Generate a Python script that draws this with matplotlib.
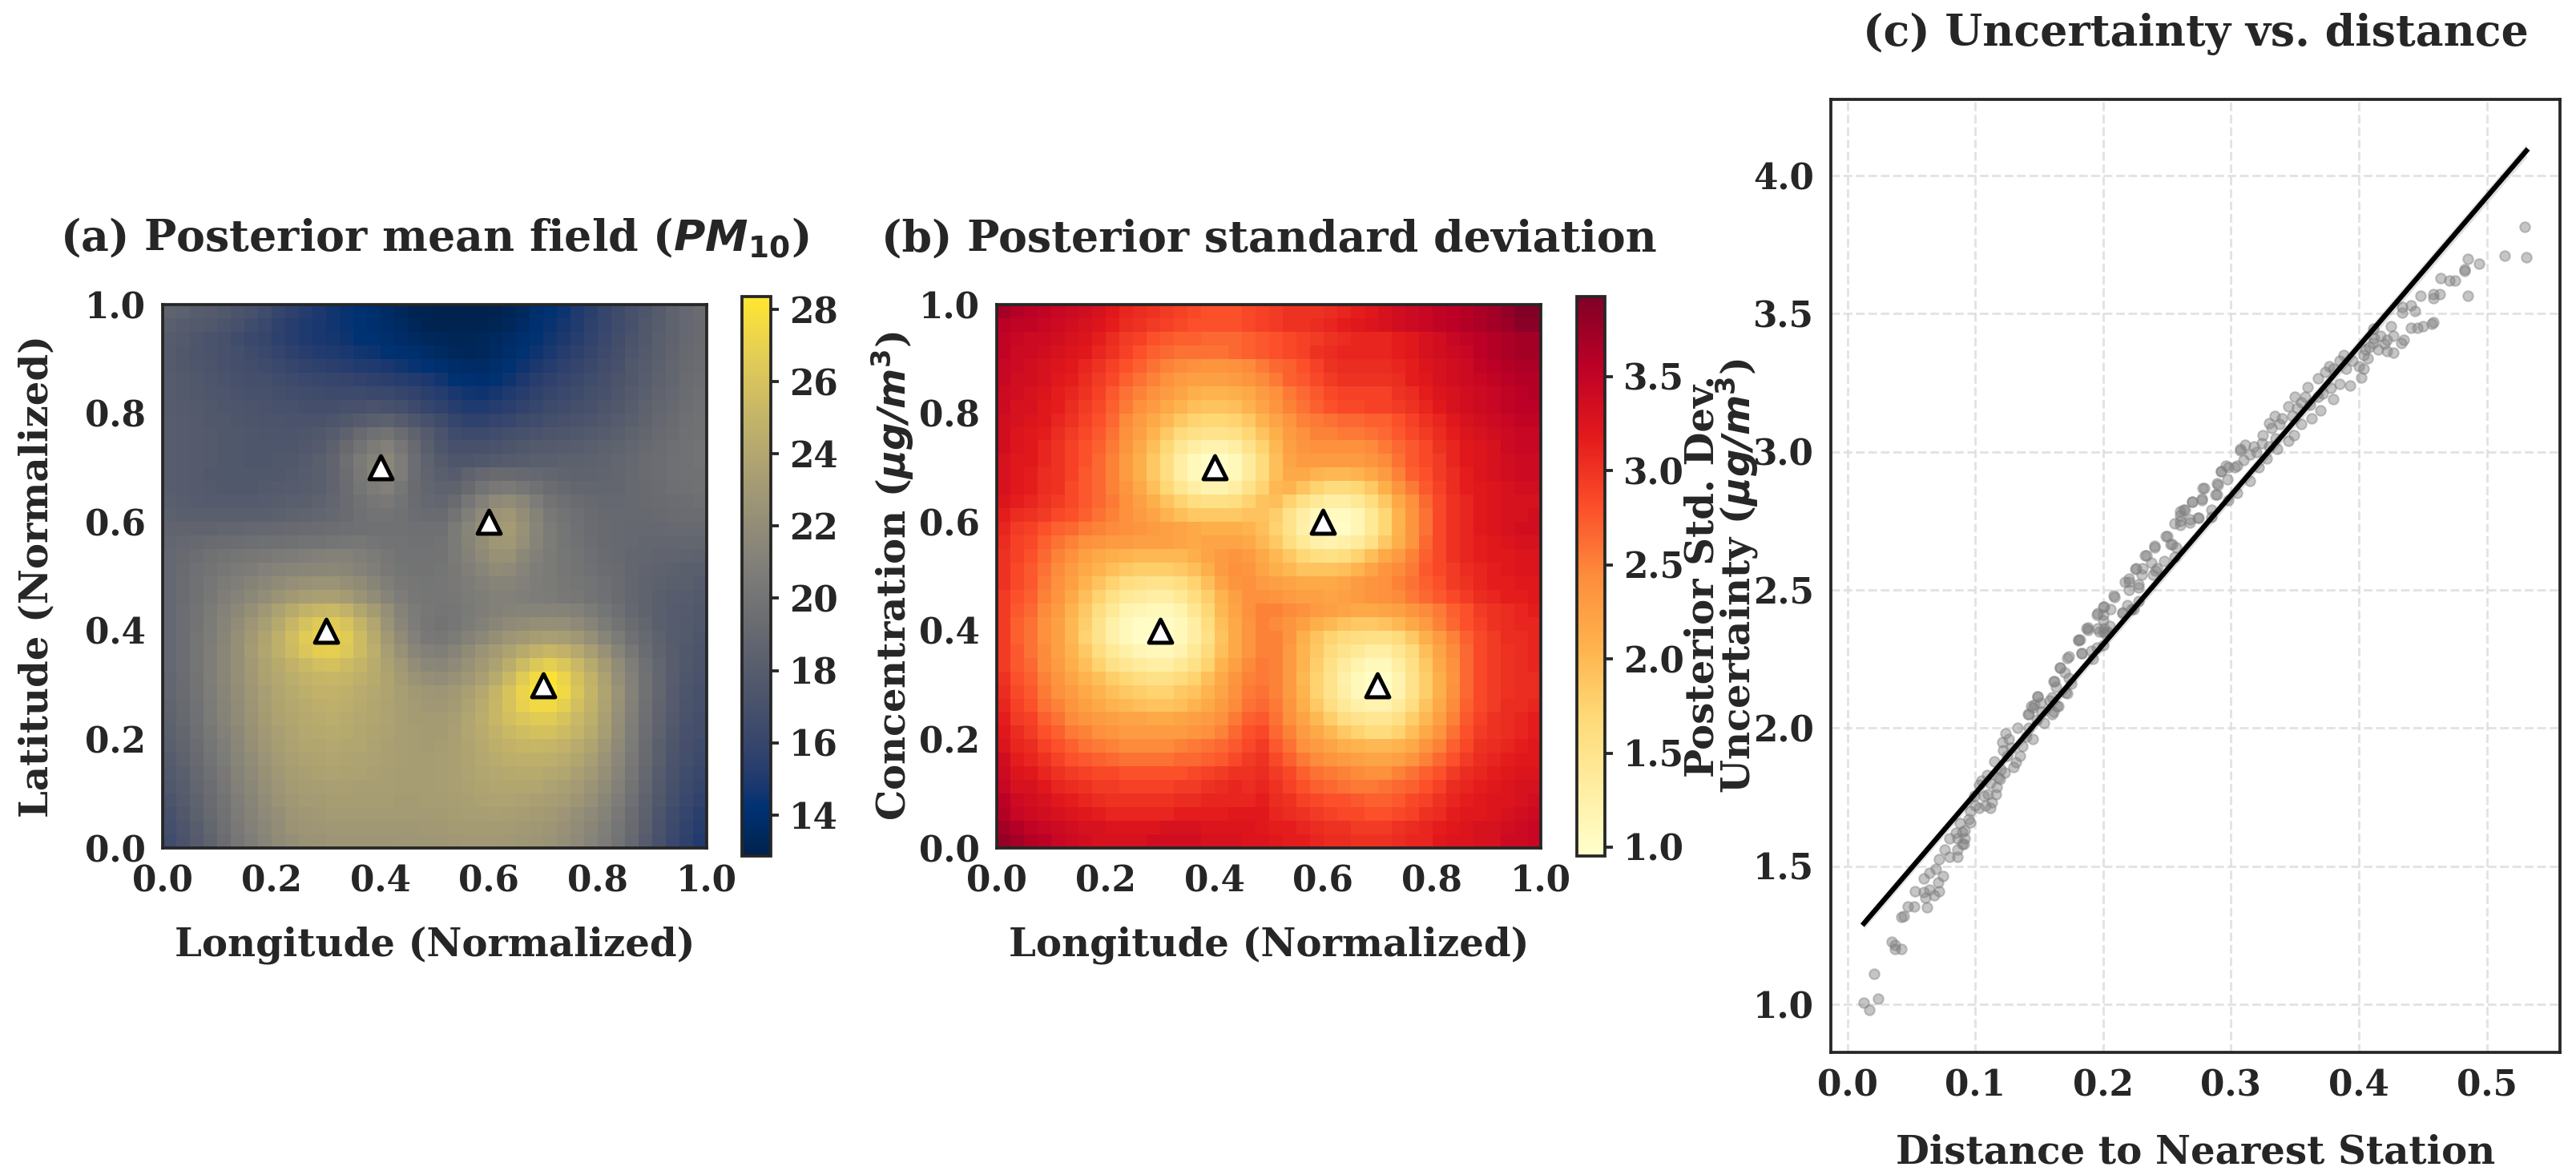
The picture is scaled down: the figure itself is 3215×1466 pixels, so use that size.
import numpy as np
import matplotlib
matplotlib.use("Agg")
import matplotlib.pyplot as plt

W, H, DPI = 3215, 1466, 300
INK = "#262626"
plt.rcParams.update({
    "font.family": "DejaVu Serif", "font.weight": "bold",
    "mathtext.fontset": "dejavusans", "mathtext.default": "it",
    "axes.labelweight": "bold", "axes.titleweight": "bold",
    "text.color": INK, "axes.labelcolor": INK,
    "xtick.color": INK, "ytick.color": INK, "axes.edgecolor": INK,
})

station_x = [0.3, 0.4, 0.6, 0.7]
station_y = [0.4, 0.7, 0.6, 0.3]

# rows top to bottom, 40 x 40 cells
mean_field = [
[18.6,18.4,18.1,17.9,17.6,17.3,17,16.6,16,15.6, 15.2,14.9,14.6,14.4,14.2,14,13.7,13.4,13.1,13, 12.9,12.9,12.9,12.9,13,13.2,13.5,14,14.3,14.5, 15,15.5,16,16.5,17,17.5,18,18.6,19,19.3],
[18.2,18,17.8,17.6,17.3,17,16.6,16.2,15.7,15.3, 15,14.8,14.6,14.4,14.2,14,13.8,13.6,13.3,13.1, 13,13,13,13.1,13.2,13.4,13.7,14.1,14.4,14.7, 15.1,15.6,16.1,16.6,17.1,17.6,18.1,18.6,19,19.2],
[18,17.8,17.5,17.2,17,16.6,16.3,16,15.6,15.3, 15,14.8,14.7,14.5,14.3,14.2,14,13.8,13.6,13.4, 13.3,13.2,13.2,13.3,13.5,13.7,14,14.3,14.6,14.9, 15.3,15.8,16.2,16.7,17.2,17.7,18.2,18.6,19,19.2],
[17.9,17.7,17.4,17.2,17,16.8,16.5,16.2,15.9,15.6, 15.3,15.1,15,14.8,14.6,14.5,14.3,14.1,14,13.8, 13.6,13.4,13.3,13.4,13.6,13.9,14.2,14.5,14.8,15.2, 15.6,16,16.4,16.9,17.4,17.8,18.3,18.7,19.1,19.3],
[17.9,17.7,17.5,17.3,17.1,16.9,16.7,16.5,16.3,16, 15.8,15.6,15.5,15.3,15.1,15,14.8,14.6,14.4,14.2, 14,13.8,13.7,13.7,13.9,14.2,14.5,14.9,15.2,15.6, 15.9,16.3,16.7,17.1,17.6,18,18.4,18.8,19.2,19.4],
[18,17.8,17.6,17.4,17.2,17.1,16.9,16.8,16.6,16.4, 16.2,16.1,16,15.9,15.8,15.6,15.5,15.3,15.1,14.9, 14.6,14.3,14.1,14,14.2,14.5,14.9,15.3,15.6,15.9, 16.2,16.6,16.9,17.3,17.7,18.1,18.5,18.9,19.3,19.5],
[18,17.8,17.7,17.5,17.4,17.2,17.1,17,16.8,16.7, 16.6,16.5,16.4,16.4,16.4,16.3,16.2,16,15.8,15.5, 15.2,14.8,14.6,14.5,14.7,15,15.3,15.7,16,16.2, 16.5,16.8,17.1,17.5,17.9,18.3,18.7,19,19.4,19.6],
[18,17.9,17.8,17.6,17.5,17.4,17.3,17.2,17.1,17, 16.9,16.9,16.9,17,17.1,17.2,17.1,16.8,16.4,16, 15.7,15.3,15,15,15.2,15.5,15.8,16.1,16.4,16.6, 16.8,17.1,17.4,17.7,18.1,18.5,18.8,19.1,19.5,19.7],
[18.1,18,17.9,17.7,17.6,17.5,17.4,17.3,17.3,17.2, 17.2,17.2,17.4,17.7,18,18.3,18.4,18,17.5,17, 16.5,16,15.7,15.7,15.9,16.1,16.4,16.6,16.8,17, 17.2,17.4,17.7,18,18.3,18.6,19,19.3,19.6,19.8],
[18.1,18,17.9,17.8,17.7,17.6,17.5,17.4,17.4,17.4, 17.5,17.6,18,18.5,19.2,19.7,20,19.4,18.6,17.9, 17.2,16.6,16.4,16.4,16.6,16.8,17,17.2,17.4,17.5, 17.6,17.8,18,18.3,18.6,18.9,19.2,19.4,19.7,19.8],
[18.1,18,17.9,17.8,17.7,17.6,17.5,17.5,17.5,17.5, 17.7,17.9,18.4,19.2,20,20.6,21,20.2,19.2,18.3, 17.5,17.1,17,17,17.2,17.4,17.6,17.8,17.9,18, 18.1,18.2,18.4,18.6,18.9,19.1,19.4,19.6,19.8,19.9],
[18.1,18,17.9,17.8,17.7,17.6,17.5,17.5,17.6,17.7, 17.9,18.2,18.7,19.6,20.5,21.2,21.6,20.7,19.5,18.6, 17.9,17.5,17.5,17.6,17.8,18,18.1,18.2,18.3,18.4, 18.4,18.5,18.6,18.8,19,19.3,19.5,19.7,19.8,19.9],
[18.1,18,17.9,17.7,17.6,17.6,17.6,17.6,17.7,17.8, 18,18.2,18.7,19.5,20.4,21.2,21.6,20.7,19.5,18.7, 18.2,18,18.6,19,19.2,19.2,19.1,19,18.8,18.7, 18.6,18.6,18.7,18.9,19.1,19.3,19.5,19.7,19.8,19.8],
[18.1,18,17.9,17.8,17.7,17.7,17.7,17.8,17.9,18, 18.1,18.3,18.7,19.4,20.1,20.7,21,20.2,19.3,18.8, 18.5,18.6,19.2,19.9,20.4,20.5,20.2,19.8,19.4,19.1, 18.9,18.8,18.8,18.9,19.1,19.2,19.4,19.6,19.7,19.8],
[18.2,18.1,18,17.9,17.9,17.9,17.9,18,18.1,18.2, 18.3,18.5,18.8,19.3,19.8,20.2,20.4,19.9,19.4,19, 18.9,19.3,20.2,21,21.8,22,21.5,20.7,20,19.6, 19.3,19.1,19,19,19.1,19.2,19.3,19.4,19.5,19.6],
[18.4,18.3,18.2,18.2,18.2,18.2,18.3,18.3,18.4,18.6, 18.7,18.8,19,19.3,19.7,19.9,20,19.8,19.5,19.3, 19.3,20,20.9,21.8,22.6,22.8,22.1,21.2,20.4,19.9, 19.6,19.3,19.1,19.1,19.1,19.1,19.2,19.3,19.4,19.4],
[18.7,18.7,18.7,18.7,18.8,18.9,19,19,19.1,19.2, 19.3,19.4,19.5,19.6,19.7,19.8,19.8,19.8,19.7,19.7, 19.7,20.5,21.4,22.3,23,23.1,22.4,21.4,20.6,20.1, 19.7,19.4,19.2,19.1,19,19,19,19.1,19.1,19.1],
[18.9,19,19.1,19.3,19.4,19.5,19.6,19.7,19.7,19.8, 19.9,20,20.1,20.2,20.3,20.1,20,19.9,19.8,19.8, 19.9,20.5,21.3,22.1,22.8,22.9,22.2,21.3,20.6,20.1, 19.8,19.5,19.2,19.1,19,18.9,18.9,18.9,18.8,18.8],
[19,19.2,19.5,19.8,20,20.1,20.3,20.4,20.6,20.7, 20.9,21,21.1,21.1,20.9,20.6,20.3,20,19.9,19.9, 20,20.5,21.1,21.8,22.4,22.4,21.7,21,20.5,20.2, 19.9,19.6,19.3,19.1,18.9,18.8,18.7,18.7,18.6,18.5],
[19,19.3,19.7,20,20.3,20.5,20.7,21,21.2,21.4, 21.5,21.6,21.7,21.5,21.2,20.9,20.4,20.1,20,20, 20.1,20.4,20.9,21.4,21.9,21.8,21.3,20.8,20.5,20.2, 20,19.7,19.4,19.2,18.9,18.7,18.5,18.4,18.3,18.2],
[19,19.4,19.8,20.2,20.6,20.9,21.2,21.6,21.9,22.2, 22.4,22.5,22.5,22.3,21.9,21.4,20.9,20.4,20.2,20.1, 20.2,20.4,20.7,21,21.3,21.3,21,20.7,20.5,20.3, 20.1,19.9,19.6,19.3,18.9,18.6,18.4,18.3,18.2,18],
[19,19.4,19.8,20.3,20.8,21.2,21.7,22.1,22.6,23, 23.3,23.5,23.5,23.2,22.6,22,21.3,20.7,20.3,20.2, 20.2,20.3,20.6,20.8,21,21,20.9,20.7,20.6,20.4, 20.3,20,19.7,19.3,18.9,18.6,18.3,18.1,18,17.8],
[19,19.5,19.9,20.5,21.1,21.7,22.3,22.9,23.6,24.3, 24.9,25.2,25.3,24.9,24,23.2,22.2,21.2,20.6,20.3, 20.1,20.2,20.5,20.8,21,21.2,21.3,21.3,21.3,21.2, 21,20.6,20.1,19.6,19,18.6,18.3,18,17.9,17.7],
[19,19.5,20,20.6,21.3,22,22.7,23.4,24.2,25.2, 26,26.5,26.6,26.1,25,23.9,22.6,21.5,20.7,20.2, 20,20.2,20.6,21,21.5,21.8,22,22.2,22.3,22.2, 21.8,21.3,20.6,20,19.3,18.8,18.3,18,17.8,17.6],
[19,19.5,20.1,20.7,21.4,22.2,23,23.8,24.7,25.7, 26.6,27.1,27.2,26.6,25.5,24.3,23,21.9,21,20.4, 20.3,20.6,21.1,21.7,22.3,22.7,23,23.3,23.5,23.3, 22.9,22.2,21.4,20.6,19.7,19.1,18.5,18,17.8,17.5],
[19,19.5,20.1,20.8,21.5,22.3,23.1,23.9,24.7,25.5, 26.3,26.8,26.9,26.4,25.5,24.6,23.4,22.4,21.5,21, 20.9,21.3,21.9,22.5,23.1,23.7,24.3,24.9,25.2,24.9, 24.2,23.4,22.4,21.3,20.3,19.4,18.6,18.1,17.7,17.4],
[19,19.5,20.1,20.8,21.5,22.3,23,23.7,24.3,24.9, 25.4,25.8,25.9,25.5,25,24.4,23.6,22.9,22.1,21.6, 21.5,21.8,22.4,23,23.6,24.5,25.5,26.4,26.9,26.3, 25.3,24.3,23.2,22,20.8,19.7,18.8,18.1,17.6,17.3],
[18.9,19.4,20,20.8,21.5,22.2,22.9,23.6,24.1,24.5, 24.9,25.1,25.2,25,24.7,24.3,23.8,23.2,22.6,22.2, 22.1,22.4,22.9,23.5,24.3,25.4,26.6,27.6,28.1,27.2, 25.9,24.8,23.6,22.3,21,19.8,18.8,18.1,17.5,17.2],
[18.8,19.3,19.9,20.7,21.4,22.1,22.8,23.4,23.9,24.3, 24.6,24.8,24.9,24.7,24.4,24.1,23.8,23.4,23,22.8, 22.7,23,23.5,24.1,25,26.1,27.2,28,28.3,27.5, 26.2,25,23.8,22.5,21.1,19.8,18.8,18,17.4,17.1],
[18.7,19.2,19.8,20.6,21.3,22,22.7,23.3,23.8,24.1, 24.4,24.6,24.7,24.5,24.3,24,23.7,23.4,23.1,22.9, 22.9,23.2,23.7,24.4,25.2,26.1,27,27.5,27.5,26.9, 25.8,24.8,23.7,22.4,21,19.7,18.7,18,17.3,17],
[18.6,19.1,19.7,20.5,21.2,21.9,22.6,23.2,23.7,24, 24.2,24.4,24.5,24.3,24.1,23.9,23.7,23.4,23.2,23.1, 23.1,23.4,23.9,24.5,25.2,25.8,26.3,26.6,26.6,26.1, 25.4,24.6,23.5,22.3,20.9,19.6,18.6,17.8,17.2,16.9],
[18.4,18.9,19.6,20.3,21,21.7,22.4,23,23.5,23.8, 24.1,24.2,24.3,24.2,24,23.8,23.6,23.4,23.3,23.2, 23.2,23.5,23.9,24.4,24.9,25.4,25.7,25.9,25.9,25.5, 25,24.3,23.3,22.1,20.8,19.5,18.5,17.7,17.1,16.8],
[18.2,18.7,19.4,20.1,20.8,21.6,22.2,22.8,23.3,23.7, 23.9,24,24.1,24,23.9,23.7,23.5,23.4,23.3,23.2, 23.3,23.5,23.8,24.2,24.6,24.9,25.1,25.2,25.1,24.8, 24.4,23.8,22.9,21.8,20.6,19.3,18.3,17.5,16.9,16.6],
[18,18.5,19.2,19.9,20.6,21.4,22,22.6,23.1,23.5, 23.7,23.8,23.9,23.8,23.7,23.6,23.5,23.4,23.3,23.3, 23.4,23.5,23.8,24.1,24.4,24.6,24.7,24.7,24.6,24.4, 24,23.4,22.6,21.6,20.4,19.2,18.2,17.3,16.8,16.4],
[17.8,18.3,19,19.7,20.4,21.2,21.8,22.4,22.9,23.3, 23.5,23.6,23.7,23.6,23.6,23.5,23.4,23.3,23.3,23.3, 23.4,23.5,23.7,23.9,24.1,24.2,24.3,24.3,24.1,23.9, 23.5,23,22.2,21.3,20.2,19,18,17.2,16.6,16.2],
[17.6,18.1,18.8,19.5,20.2,21,21.6,22.2,22.7,23.1, 23.3,23.4,23.5,23.5,23.4,23.4,23.4,23.3,23.3,23.3, 23.4,23.5,23.6,23.8,23.9,24,24,23.9,23.7,23.5, 23.1,22.6,21.9,21,20,18.8,17.8,17,16.4,16],
[17.3,17.9,18.6,19.3,20,20.8,21.4,22,22.5,22.9, 23.1,23.2,23.3,23.3,23.3,23.3,23.3,23.2,23.2,23.3, 23.3,23.4,23.5,23.6,23.7,23.7,23.6,23.5,23.3,23.1, 22.7,22.2,21.5,20.7,19.7,18.6,17.6,16.8,16.2,15.8],
[17.1,17.7,18.4,19.1,19.8,20.6,21.2,21.8,22.3,22.7, 22.9,23,23.1,23.1,23.1,23.1,23.1,23.1,23.1,23.1, 23.2,23.3,23.4,23.4,23.5,23.4,23.3,23.2,23,22.7, 22.3,21.8,21.2,20.4,19.4,18.4,17.4,16.6,16,15.5],
[16.8,17.4,18.1,18.8,19.6,20.4,21,21.6,22.1,22.5, 22.7,22.8,22.9,22.9,22.9,22.9,22.9,22.9,22.9,23, 23,23.1,23.2,23.2,23.2,23.1,23,22.9,22.7,22.4, 22,21.5,20.9,20.1,19.2,18.2,17.2,16.4,15.8,15.3],
[16.6,17.2,17.9,18.6,19.4,20.2,20.8,21.4,21.9,22.3, 22.5,22.6,22.7,22.7,22.7,22.7,22.7,22.8,22.8,22.8, 22.8,22.9,23,23,23,22.9,22.8,22.7,22.5,22.2, 21.8,21.3,20.7,19.9,19,18,17,16.2,15.6,15.1],
]
std_field = [
[3.7,3.6,3.55,3.5,3.45,3.4,3.35,3.3,3.2,3.1, 3.05,3,2.95,2.9,2.85,2.8,2.8,2.8,2.85,2.9, 2.95,3,3,3,3.05,3.1,3.15,3.2,3.3,3.35, 3.4,3.45,3.5,3.55,3.6,3.65,3.7,3.8,3.9,3.9],
[3.55,3.5,3.5,3.45,3.4,3.35,3.3,3.25,3.15,3.05, 3,2.95,2.9,2.85,2.8,2.8,2.8,2.8,2.85,2.9, 2.95,3,3,3.05,3.1,3.15,3.2,3.25,3.3,3.35, 3.4,3.45,3.5,3.55,3.6,3.65,3.7,3.75,3.85,3.85],
[3.5,3.45,3.4,3.4,3.35,3.3,3.25,3.15,3.05,2.95, 2.9,2.8,2.75,2.7,2.7,2.65,2.65,2.65,2.7,2.75, 2.8,2.85,2.9,2.95,3,3.05,3.1,3.1,3.1,3.15, 3.2,3.3,3.35,3.45,3.5,3.55,3.6,3.65,3.7,3.7],
[3.5,3.4,3.4,3.35,3.3,3.25,3.2,3.1,3,2.9, 2.8,2.7,2.65,2.6,2.6,2.6,2.6,2.65,2.7,2.75, 2.8,2.85,2.9,3,3.05,3.1,3.1,3.1,3.1,3.15, 3.2,3.3,3.35,3.4,3.45,3.55,3.6,3.65,3.7,3.7],
[3.45,3.4,3.35,3.3,3.25,3.2,3.1,3,2.9,2.8, 2.7,2.6,2.5,2.45,2.4,2.35,2.35,2.4,2.45,2.55, 2.65,2.7,2.8,2.9,3,3.05,3.05,3.05,3.05,3.1, 3.15,3.25,3.3,3.35,3.4,3.5,3.55,3.6,3.65,3.65],
[3.45,3.35,3.35,3.3,3.2,3.15,3.05,2.95,2.85,2.7, 2.6,2.5,2.4,2.3,2.25,2.25,2.25,2.3,2.35,2.45, 2.55,2.7,2.75,2.85,2.95,3,3,3,3,3.05, 3.15,3.2,3.3,3.35,3.4,3.45,3.5,3.55,3.6,3.6],
[3.4,3.35,3.3,3.25,3.15,3.1,3,2.9,2.75,2.6, 2.5,2.4,2.3,2.2,2.1,2.05,2.05,2.1,2.15,2.3, 2.4,2.55,2.65,2.75,2.85,2.9,2.9,2.9,2.9,3, 3.05,3.15,3.25,3.3,3.35,3.4,3.45,3.5,3.55,3.6],
[3.4,3.3,3.3,3.2,3.15,3.05,2.95,2.85,2.7,2.55, 2.4,2.3,2.15,2.05,1.95,1.9,1.9,1.95,2.05,2.2, 2.35,2.5,2.6,2.7,2.8,2.85,2.85,2.9,2.9,2.95, 3,3.1,3.2,3.3,3.35,3.4,3.45,3.5,3.55,3.55],
[3.35,3.3,3.25,3.2,3.1,3,2.9,2.8,2.65,2.45, 2.3,2.15,2,1.85,1.75,1.7,1.7,1.75,1.85,2.05, 2.2,2.35,2.5,2.55,2.6,2.65,2.65,2.7,2.7,2.8, 2.9,3,3.1,3.2,3.3,3.35,3.4,3.45,3.5,3.5],
[3.35,3.25,3.2,3.15,3.05,2.95,2.85,2.75,2.6,2.4, 2.25,2.05,1.85,1.65,1.55,1.5,1.5,1.55,1.7,1.9, 2.1,2.3,2.4,2.5,2.5,2.55,2.55,2.6,2.65,2.75, 2.85,2.95,3.05,3.15,3.25,3.3,3.35,3.4,3.45,3.45],
[3.35,3.25,3.2,3.1,3,2.9,2.8,2.7,2.55,2.35, 2.15,1.95,1.7,1.45,1.3,1.2,1.2,1.3,1.5,1.75, 2,2.25,2.35,2.4,2.4,2.4,2.4,2.45,2.55,2.65, 2.75,2.85,3,3.1,3.2,3.25,3.3,3.4,3.45,3.45],
[3.3,3.2,3.2,3.1,3,2.9,2.8,2.65,2.5,2.3, 2.1,1.85,1.6,1.3,1.1,1.02,1.02,1.1,1.35,1.65, 1.95,2.2,2.3,2.3,2.3,2.3,2.3,2.35,2.45,2.6, 2.75,2.85,2.95,3.1,3.2,3.25,3.3,3.35,3.4,3.4],
[3.3,3.2,3.15,3.05,3,2.9,2.75,2.65,2.5,2.3, 2.1,1.85,1.6,1.3,1.1,1,1,1.1,1.35,1.65, 1.95,2.15,2.15,2.05,2,2,2.05,2.15,2.3,2.5, 2.7,2.8,2.95,3.05,3.15,3.25,3.3,3.35,3.4,3.4],
[3.3,3.2,3.15,3.05,3,2.85,2.75,2.65,2.5,2.35, 2.15,1.95,1.7,1.45,1.3,1.2,1.2,1.3,1.5,1.75, 2,2.05,1.9,1.75,1.65,1.65,1.7,1.85,2.1,2.35, 2.55,2.75,2.9,3.05,3.15,3.2,3.25,3.3,3.35,3.35],
[3.25,3.15,3.1,3,2.95,2.85,2.75,2.65,2.55,2.4, 2.25,2.1,1.9,1.75,1.6,1.55,1.55,1.6,1.75,1.9, 1.95,1.75,1.55,1.4,1.3,1.3,1.4,1.6,1.85,2.15, 2.4,2.65,2.85,3,3.1,3.2,3.25,3.3,3.3,3.3],
[3.15,3.05,3,2.95,2.85,2.8,2.7,2.6,2.5,2.4, 2.3,2.2,2.05,1.95,1.85,1.85,1.85,1.85,1.9,1.9, 1.8,1.5,1.3,1.1,1.05,1.05,1.15,1.4,1.7,2.05, 2.35,2.6,2.85,3,3.1,3.2,3.25,3.3,3.3,3.35],
[3.1,2.95,2.9,2.8,2.7,2.65,2.55,2.5,2.45,2.4, 2.35,2.3,2.25,2.2,2.15,2.1,2.1,2.1,2.05,1.95, 1.75,1.5,1.25,1.05,1,1,1.15,1.4,1.7,2.05, 2.35,2.6,2.85,3,3.1,3.2,3.25,3.3,3.35,3.35],
[3.05,2.9,2.85,2.7,2.6,2.5,2.4,2.35,2.3,2.3, 2.25,2.25,2.25,2.2,2.15,2.2,2.2,2.2,2.15,2, 1.85,1.6,1.4,1.25,1.2,1.25,1.35,1.55,1.85,2.1, 2.35,2.65,2.85,3,3.1,3.15,3.2,3.25,3.3,3.3],
[3,2.9,2.8,2.65,2.5,2.4,2.25,2.15,2.1,2.05, 2,2,2,2,2.1,2.2,2.3,2.35,2.3,2.15, 2,1.85,1.7,1.6,1.55,1.6,1.75,1.95,2.15,2.3, 2.5,2.7,2.85,3,3.1,3.15,3.2,3.2,3.25,3.25],
[3,2.85,2.75,2.6,2.45,2.3,2.15,2.05,1.95,1.85, 1.8,1.8,1.8,1.85,1.95,2.1,2.3,2.4,2.35,2.2, 2.1,2,1.9,1.9,1.9,1.95,2.05,2.2,2.35,2.45, 2.55,2.75,2.85,2.95,3.05,3.1,3.15,3.2,3.25,3.25],
[3,2.85,2.75,2.55,2.4,2.25,2.05,1.9,1.75,1.6, 1.55,1.5,1.5,1.6,1.75,1.95,2.2,2.35,2.4,2.3, 2.25,2.2,2.15,2.15,2.15,2.2,2.3,2.35,2.4,2.5, 2.6,2.7,2.8,2.95,3,3.1,3.15,3.15,3.2,3.2],
[2.95,2.8,2.7,2.5,2.35,2.15,1.95,1.75,1.55,1.4, 1.35,1.3,1.3,1.4,1.6,1.8,2.05,2.25,2.4,2.4, 2.35,2.3,2.25,2.25,2.2,2.25,2.3,2.35,2.4,2.45, 2.55,2.65,2.75,2.85,2.95,3.05,3.1,3.15,3.15,3.2],
[2.95,2.75,2.65,2.45,2.3,2.05,1.85,1.6,1.4,1.2, 1.15,1.1,1.1,1.2,1.45,1.7,2,2.2,2.4,2.5, 2.5,2.45,2.4,2.3,2.25,2.2,2.15,2.15,2.2,2.25, 2.35,2.45,2.55,2.7,2.8,2.95,3,3.05,3.1,3.15],
[2.95,2.7,2.6,2.4,2.25,2,1.8,1.5,1.25,1.1, 1.02,1,1,1.1,1.3,1.6,1.95,2.15,2.35,2.5, 2.45,2.35,2.25,2.1,2,1.9,1.85,1.85,1.9,2, 2.15,2.3,2.5,2.65,2.8,2.9,3,3.05,3.1,3.1],
[2.95,2.7,2.6,2.4,2.25,2,1.75,1.5,1.25,1.1, 1.02,1,1,1.1,1.3,1.55,1.9,2.15,2.35,2.5, 2.5,2.35,2.1,1.9,1.75,1.65,1.6,1.55,1.55,1.65, 1.85,2.1,2.3,2.5,2.7,2.85,2.95,3.05,3.05,3.1],
[2.95,2.75,2.6,2.45,2.25,2.05,1.85,1.6,1.4,1.25, 1.15,1.1,1.1,1.2,1.4,1.65,1.95,2.15,2.35,2.5, 2.5,2.3,2.05,1.85,1.65,1.5,1.4,1.3,1.3,1.45, 1.65,1.95,2.2,2.45,2.65,2.85,2.95,3,3.05,3.1],
[2.95,2.75,2.65,2.45,2.3,2.1,1.95,1.75,1.55,1.45, 1.35,1.3,1.3,1.4,1.55,1.75,2.05,2.25,2.45,2.55, 2.5,2.3,2.05,1.8,1.55,1.35,1.2,1.1,1.1,1.3, 1.55,1.85,2.15,2.4,2.65,2.85,2.95,3,3.05,3.1],
[3,2.8,2.7,2.5,2.35,2.2,2.05,1.95,1.8,1.7, 1.6,1.55,1.55,1.65,1.75,1.95,2.15,2.35,2.5,2.55, 2.5,2.3,2,1.75,1.5,1.25,1.1,1.02,1.02,1.2, 1.5,1.8,2.1,2.35,2.65,2.85,2.95,3,3.05,3.05],
[3.05,2.85,2.75,2.55,2.4,2.3,2.15,2.05,1.95,1.85, 1.8,1.75,1.75,1.85,1.9,2.05,2.2,2.4,2.55,2.6, 2.5,2.3,2.05,1.75,1.5,1.3,1.1,1,1,1.2, 1.5,1.8,2.1,2.4,2.65,2.85,2.95,3,3.05,3.05],
[3.1,2.9,2.8,2.6,2.5,2.35,2.25,2.15,2.05,2, 1.95,1.9,1.9,1.95,2.05,2.15,2.3,2.45,2.6,2.65, 2.55,2.35,2.1,1.85,1.6,1.4,1.25,1.2,1.2,1.35, 1.6,1.9,2.15,2.45,2.7,2.85,2.95,3.05,3.05,3.1],
[3.15,2.95,2.9,2.7,2.6,2.45,2.35,2.3,2.25,2.2, 2.2,2.15,2.15,2.2,2.25,2.3,2.4,2.55,2.7,2.75, 2.6,2.4,2.2,2,1.8,1.6,1.5,1.45,1.45,1.55, 1.8,2,2.25,2.5,2.75,2.9,3,3.05,3.1,3.15],
[3.2,3.05,2.95,2.8,2.7,2.55,2.5,2.4,2.35,2.3, 2.3,2.3,2.3,2.3,2.35,2.4,2.5,2.65,2.8,2.85, 2.65,2.5,2.3,2.15,2,1.85,1.75,1.65,1.65,1.75, 1.95,2.15,2.35,2.6,2.8,2.95,3,3.05,3.1,3.15],
[3.25,3.1,3.05,2.9,2.8,2.7,2.6,2.55,2.5,2.45, 2.45,2.45,2.45,2.5,2.55,2.6,2.65,2.75,2.85,2.95, 2.75,2.6,2.4,2.3,2.2,2.1,2.05,2,2,2.05, 2.15,2.35,2.5,2.7,2.85,3,3.05,3.1,3.15,3.2],
[3.35,3.15,3.1,3,2.9,2.8,2.75,2.7,2.65,2.6, 2.6,2.6,2.6,2.65,2.65,2.7,2.75,2.85,2.95,3, 2.85,2.7,2.55,2.45,2.35,2.3,2.25,2.2,2.2,2.25, 2.35,2.5,2.65,2.8,2.95,3.05,3.1,3.15,3.2,3.2],
[3.4,3.25,3.2,3.1,3,2.95,2.9,2.85,2.85,2.8, 2.8,2.8,2.8,2.8,2.85,2.9,2.95,3,3,3.05, 2.95,2.85,2.7,2.6,2.55,2.5,2.45,2.4,2.4,2.5, 2.6,2.7,2.8,2.95,3.05,3.1,3.15,3.2,3.25,3.25],
[3.45,3.3,3.3,3.2,3.1,3.05,3,2.95,2.95,2.9, 2.9,2.9,2.9,2.95,2.95,3,3.05,3.1,3.05,3.1, 3,2.9,2.8,2.7,2.65,2.6,2.55,2.55,2.6,2.65, 2.7,2.8,2.9,3.05,3.1,3.15,3.2,3.25,3.3,3.3],
[3.55,3.4,3.35,3.3,3.2,3.15,3.1,3.05,3,3, 3,3,3,3.05,3.05,3.1,3.1,3.1,3.1,3.15, 3.05,3,2.9,2.85,2.8,2.8,2.75,2.7,2.7,2.75, 2.85,2.9,3,3.1,3.15,3.2,3.25,3.25,3.3,3.35],
[3.6,3.45,3.4,3.35,3.3,3.25,3.2,3.15,3.1,3.1, 3.1,3.1,3.1,3.15,3.15,3.15,3.15,3.2,3.2,3.2, 3.1,3.05,3,2.95,2.9,2.85,2.85,2.8,2.8,2.85, 2.9,3,3.05,3.15,3.2,3.2,3.25,3.3,3.35,3.4],
[3.7,3.6,3.5,3.45,3.4,3.35,3.3,3.3,3.25,3.25, 3.25,3.25,3.3,3.3,3.3,3.25,3.25,3.25,3.25,3.2, 3.15,3.15,3.1,3.05,3,3,2.95,2.95,2.95,3, 3.05,3.1,3.15,3.2,3.25,3.3,3.3,3.35,3.4,3.45],
[3.8,3.7,3.6,3.55,3.45,3.4,3.35,3.3,3.3,3.3, 3.3,3.35,3.35,3.35,3.35,3.3,3.3,3.3,3.25,3.25, 3.2,3.15,3.15,3.1,3.05,3.05,3,3,3,3.05, 3.1,3.1,3.2,3.25,3.25,3.3,3.3,3.4,3.4,3.45],
]

dist = [.53,.531,.514,.494,.485,.483,.483,.485,.475,.471,.464,.463,.458,.458,.448,.458,.457,.45,.446,.441,.444,.441,.434,.434,.425,.427,.435,.433,.427,.422,.422,.417,.411,.411,.404,.404,.402,.407,.388,.385,.377,.374,.393,.385,.368,.36,.38,.37,.363,.35,.355,.345,.355,.349,.345,.334,.33,.332,.336,.324,.311,.307,.328,.322,.292,.296,.305,.315,.29,.279,.288,.277,.27,.298,.285,.264,.26,.275,.26,.268,.249,.24,.254,.256,.234,.241,.226,.22,.23,.228,.209,.222,.215,.196,.2,.2,.188,.2,.181,
.181,.188,.196,.203,.2,.192,.183,.173,.166,.162,.175,.171,.164,.16,.154,.149,.145,.141,.145,.133,.126,.137,.122,.115,.132,.123,.119,.109,.103,.117,.113,.107,.099,.103,.096,.096,.088,.09,.092,.08,.086,.091,.086,.076,.086,.072,.08,.069,.064,.075,.06,.071,.072,.064,.053,.06,.068,.061,.052,.047,.062,.044,.042,.035,.037,.042,.037,.021,.024,.013,.017,
.149,.144,.142,.146,.151,.161,.166,.163,.17,.173,.172,.161,.165,.172,.183,.182,.187,.191,.195,.195,.201,.2,.201,.205,.202,.197,.208,.206,.215,.219,.224,.228,.22,.217,.22,.225,.228,.231,.239,.242,.233,.238,.24,.248,.253,.25,.257,.256,.26,.26,.263,.268,.274,.27,.277,.278,.285,.289,.289,.292,.298,.303,.297,.305,.307,
.105,.11,.112,.118,.12,.125,.128,.121,.124,.135,.13,.116,.108,.112,.1,.095,.092,.085,.09,.14,.142,.148,.152,.158,.16,
.31,.315,.32,.33,.335,.325,.318,.338,.34,.348,.352,.358,.362,.368,.372,.378,.38,.39,.395,.4,.405,.408,.412,.415,.42]
sigma = [3.815,3.705,3.71,3.68,3.70,3.66,3.655,3.565,3.62,3.62,3.63,3.57,3.57,3.555,3.565,3.47,3.465,3.455,3.45,3.45,3.51,3.53,3.505,3.525,3.455,3.42,3.405,3.395,3.36,3.365,3.405,3.42,3.445,3.395,3.35,3.3,3.27,3.34,3.35,3.33,3.31,3.29,3.24,3.245,3.265,3.235,3.19,3.15,3.12,3.2,3.18,3.165,3.1,3.06,3.04,3.13,3.105,3.085,3.01,3.03,3.025,3.005,2.975,2.945,2.93,2.95,2.95,2.895,2.88,2.87,2.845,2.825,2.82,2.825,2.765,2.79,2.77,2.76,2.735,2.745,2.695,2.66,2.665,2.62,2.625,2.57,2.58,2.53,2.555,2.51,2.475,2.43,2.42,2.415,2.44,2.39,2.365,2.35,2.32,
2.316,2.355,2.36,2.35,2.30,2.25,2.27,2.26,2.22,2.17,2.16,2.13,2.08,2.05,2.02,2.115,2.075,2.05,1.96,2.0,1.96,1.935,1.92,1.88,1.875,1.84,1.815,1.83,1.795,1.785,1.73,1.755,1.755,1.71,1.70,1.66,1.655,1.625,1.60,1.60,1.6,1.58,1.56,1.56,1.535,1.525,1.535,1.49,1.475,1.465,1.455,1.44,1.41,1.415,1.41,1.405,1.395,1.385,1.355,1.355,1.35,1.32,1.315,1.225,1.215,1.2,1.2,1.11,1.02,1.005,.98,
2.115,2.08,2.05,2.085,2.09,2.17,2.22,2.15,2.2,2.18,2.125,2.06,2.08,2.255,2.27,2.32,2.36,2.28,2.29,2.41,2.44,2.41,2.36,2.37,2.34,2.35,2.48,2.43,2.415,2.445,2.43,2.46,2.5,2.53,2.54,2.575,2.52,2.58,2.555,2.58,2.625,2.6,2.655,2.605,2.665,2.695,2.655,2.74,2.75,2.785,2.79,2.755,2.76,2.82,2.83,2.87,2.79,2.845,2.885,2.93,2.945,2.945,2.9,2.85,3.01,
1.81,1.76,1.8,1.82,1.85,1.9,1.93,1.95,1.98,1.9,1.86,1.76,1.72,1.71,1.72,1.67,1.63,1.62,1.58,1.97,2.0,2.03,2.06,2.1,2.11,
2.97,2.99,3.0,3.02,3.05,3.06,3.02,3.1,3.12,3.13,3.16,3.2,3.17,3.2,3.21,3.23,3.3,3.3,3.33,3.31,3.37,3.38,3.41,3.37,3.39]
fit_x = [0.013, 0.531]
fit_y = [1.293, 4.09]
fit_half_band = [0.02, 0.025]

fig = plt.figure(figsize=(W / DPI, H / DPI), dpi=DPI, facecolor="white")

def axes_px(l, r, t, b):
    return fig.add_axes([l / W, 1 - b / H, (r - l) / W, (b - t) / H])

def style(ax, lw=0.9):
    for s in ax.spines.values():
        s.set_linewidth(lw)
        s.set_color(INK)

TICK, LABEL, TITLE = 10.5, 11.6, 12.9

def place_ylabel(ax, frac_x):
    ax.yaxis.label.set_verticalalignment("center")
    ax.yaxis.set_label_coords(frac_x, 0.5)

def heat(ax_box, cbar_box, data, cmap, vmin, vmax, cticks, title, ylabel, ylab_x):
    ax = axes_px(*ax_box)
    im = ax.imshow(data, origin="upper", extent=[0, 1, 0, 1], aspect="auto",
                   cmap=cmap, vmin=vmin, vmax=vmax, interpolation="nearest")
    ax.scatter(station_x, station_y, marker="^", s=48, c="white",
               edgecolors="black", linewidths=1.2, zorder=5)
    ax.set_xlim(0, 1); ax.set_ylim(0, 1)
    ax.set_xticks(np.arange(0, 1.01, .2)); ax.set_yticks(np.arange(0, 1.01, .2))
    ax.tick_params(labelsize=TICK, length=0, pad=5)
    ax.set_xlabel("Longitude (Normalized)", fontsize=LABEL, labelpad=8)
    ax.set_ylabel(ylabel, fontsize=LABEL)
    place_ylabel(ax, (ylab_x - ax_box[0]) / (ax_box[1] - ax_box[0]))
    ax.set_title(title, fontsize=TITLE, pad=16)
    style(ax)
    cax = axes_px(*cbar_box)
    cb = fig.colorbar(im, cax=cax)
    cb.set_ticks(cticks)
    cax.tick_params(labelsize=TICK, length=2.5, width=0.9, pad=3)
    cb.outline.set_linewidth(0.9); cb.outline.set_edgecolor(INK)
    return ax, cax

heat((203, 882, 380, 1058), (926, 962, 369.5, 1068), mean_field, "cividis", 12.86, 28.37,
     list(range(14, 29, 2)), r"(a) Posterior mean field ($\mathbfit{PM}_{\mathbf{10}}$)",
     "Latitude (Normalized)", 46)
ax_b, cax_b = heat((1244, 1923, 380, 1058), (1968, 2003, 369.5, 1068), std_field, "YlOrRd", 0.953, 3.928,
     [1.0, 1.5, 2.0, 2.5, 3.0, 3.5], "(b) Posterior standard deviation",
     r"Concentration ($\mathbfit{\mu g/m}^{\mathbf{3}}$)", 1114)
cax_b.set_ylabel("Posterior Std. Dev.", fontsize=LABEL)
place_ylabel(cax_b, (2125 - 1968) / 35)

ax = axes_px(2285, 3195, 124, 1313)
ax.grid(True, color="#dddddd", linestyle="--", linewidth=0.7, alpha=0.8)
ax.set_axisbelow(True)
ax.scatter(dist, sigma, s=9, color="gray", alpha=0.45, linewidths=0.5, edgecolors="gray")
ax.fill_between(fit_x, np.subtract(fit_y, fit_half_band), np.add(fit_y, fit_half_band),
                color="black", alpha=0.12, linewidth=0)
ax.plot(fit_x, fit_y, color="black", lw=1.5)
ax.set_xlim(-0.0129, 0.5573); ax.set_ylim(0.826, 4.276)
ax.set_xticks(np.arange(0, .51, .1)); ax.set_yticks(np.arange(1, 4.01, .5))
ax.tick_params(labelsize=TICK, length=0, pad=5)
ax.set_xlabel("Distance to Nearest Station", fontsize=LABEL, labelpad=9)
ax.set_ylabel(r"Uncertainty ($\mathbfit{\mu g/m}^{\mathbf{3}}$)", fontsize=LABEL)
place_ylabel(ax, (2168 - 2285) / 910)
ax.set_title("(c) Uncertainty vs. distance", fontsize=TITLE, pad=16)
style(ax)

fig.savefig("out.png", dpi=DPI, facecolor="white")
